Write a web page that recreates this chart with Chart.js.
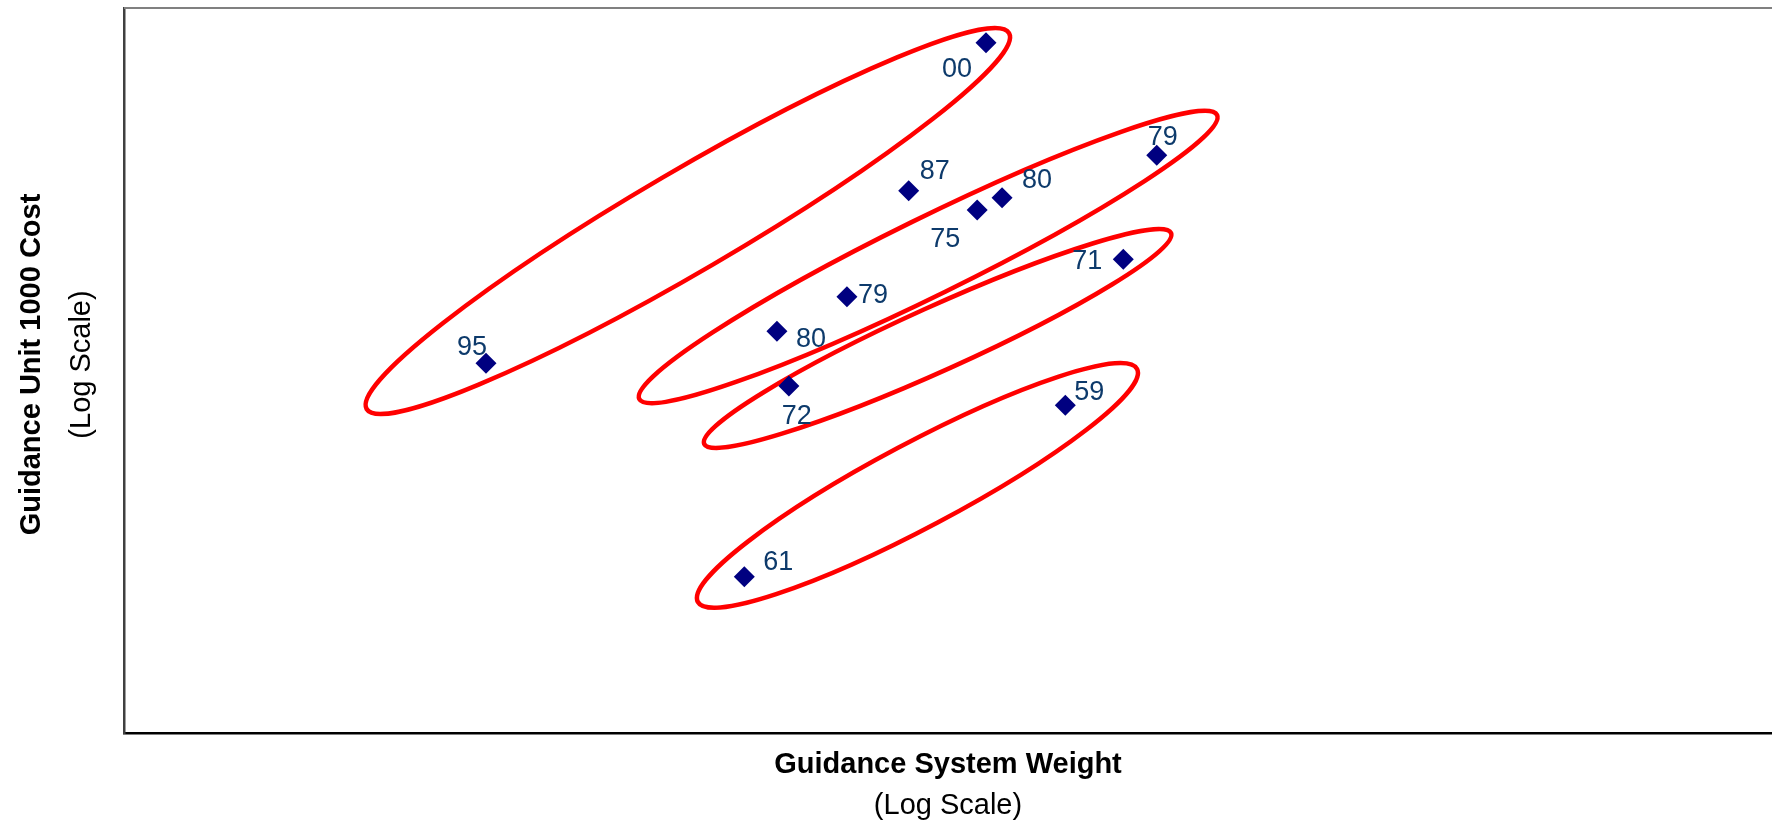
<!DOCTYPE html>
<html>
<head>
<meta charset="utf-8">
<script src="https://cdn.jsdelivr.net/npm/chart.js@4.4.1/dist/chart.umd.min.js"></script>
<style>
  html, body { margin: 0; padding: 0; background: #ffffff; }
  #wrap { width: 1772px; height: 826px; }
</style>
</head>
<body>
<div id="wrap"><canvas id="c" width="1772" height="826"></canvas></div>
<script>
// ---- data (log-log axes, no tick labels shown) ----
const pointLabels = ['00', '87', '75', '80', '79', '71', '79', '80', '72', '59', '95', '61'];
const systemWeight = [111.2, 89.6, 108.5, 116.3, 179.2, 163.2, 75.4, 62.0, 64.1, 138.8, 27.5, 56.6];
const unitCost = [8024, 3133, 2772, 2997, 3924, 2027, 1598, 1283, 906, 802, 1047, 270];

// axis ranges (log scale)
const xRange = [10, 1000];
const yRange = [100, 10000];

// grouping ellipses: major-axis end points in data units and minor/major ratio
const ellipseX1 = [19.7, 42.2, 50.6, 49.7];
const ellipseY1 = [783, 834, 627, 230];
const ellipseX2 = [118.6, 212.1, 186.5, 169.6];
const ellipseY2 = [8531, 5068, 2395, 1010];
const ellipseRatio = [0.135, 0.12, 0.125, 0.17];

// label placement (pixel offsets of label centre from marker) - style only
const labelDX = [-29, 26, -32, 35, 6, -36, 26, 34, 8, 24, -14, 34];
const labelDY = [25, -21, 27, -19, -20, 0, -3, 6, 28, -15, -18, -16];

const FONT = '"Liberation Sans", Arial, Helvetica, sans-serif';

const points = systemWeight.map((w, i) => ({ x: w, y: unitCost[i] }));

const ellipsePlugin = {
  id: 'ellipses',
  beforeDatasetsDraw(chart) {
    const { ctx, scales: { x, y } } = chart;
    ctx.save();
    ctx.strokeStyle = '#ff0000';
    ctx.lineWidth = 4.5;
    for (let i = 0; i < ellipseX1.length; i++) {
      const x1 = x.getPixelForValue(ellipseX1[i]);
      const y1 = y.getPixelForValue(ellipseY1[i]);
      const x2 = x.getPixelForValue(ellipseX2[i]);
      const y2 = y.getPixelForValue(ellipseY2[i]);
      const cx = (x1 + x2) / 2, cy = (y1 + y2) / 2;
      const a = Math.hypot(x2 - x1, y2 - y1) / 2;
      const b = a * ellipseRatio[i];
      const ang = Math.atan2(y2 - y1, x2 - x1);
      ctx.beginPath();
      ctx.ellipse(cx, cy, a, b, ang, 0, Math.PI * 2);
      ctx.stroke();
    }
    ctx.restore();
  }
};

const labelPlugin = {
  id: 'pointLabels',
  afterDatasetsDraw(chart) {
    const { ctx } = chart;
    const meta = chart.getDatasetMeta(0);
    ctx.save();
    ctx.font = '27px ' + FONT;
    ctx.fillStyle = '#0d3a6b';
    ctx.textAlign = 'center';
    ctx.textBaseline = 'alphabetic';
    meta.data.forEach((el, i) => {
      ctx.fillText(pointLabels[i], el.x + labelDX[i], el.y + labelDY[i] + 9.7);
    });
    ctx.restore();
  }
};

const framePlugin = {
  id: 'frameAndTitles',
  afterDraw(chart) {
    const { ctx, chartArea: ca } = chart;
    ctx.save();
    // top frame line
    ctx.strokeStyle = '#808080';
    ctx.lineWidth = 2;
    ctx.beginPath();
    ctx.moveTo(ca.left, ca.top);
    ctx.lineTo(chart.width, ca.top);
    ctx.stroke();

    ctx.fillStyle = '#000000';
    ctx.textAlign = 'center';
    ctx.textBaseline = 'alphabetic';
    const cxm = (ca.left + ca.right) / 2;
    ctx.font = 'bold 29px ' + FONT;
    ctx.fillText('Guidance System Weight', cxm, ca.bottom + 40);
    ctx.font = '29px ' + FONT;
    ctx.fillText('(Log Scale)', cxm, ca.bottom + 81);

    const cym = (ca.top + ca.bottom) / 2 - 6;
    ctx.save();
    ctx.translate(40, cym);
    ctx.rotate(-Math.PI / 2);
    ctx.font = 'bold 29px ' + FONT;
    ctx.fillText('Guidance Unit 1000 Cost', 0, 0);
    ctx.restore();
    ctx.save();
    ctx.translate(90, cym);
    ctx.rotate(-Math.PI / 2);
    ctx.font = '29px ' + FONT;
    ctx.fillText('(Log Scale)', 0, 0);
    ctx.restore();
    ctx.restore();
  }
};

new Chart(document.getElementById('c'), {
  type: 'scatter',
  data: {
    datasets: [{
      data: points,
      pointStyle: 'rectRot',
      pointRadius: 10.5,
      pointHoverRadius: 10.5,
      backgroundColor: '#000080',
      borderColor: '#000080',
      borderWidth: 0
    }]
  },
  options: {
    responsive: false,
    animation: false,
    devicePixelRatio: 1,
    events: [],
    layout: { autoPadding: false, padding: { left: 124, top: 8, right: 0, bottom: 93 } },
    plugins: { legend: { display: false }, tooltip: { enabled: false } },
    scales: {
      x: {
        type: 'logarithmic',
        min: xRange[0], max: xRange[1],
        ticks: { display: false },
        grid: { display: false, drawTicks: false },
        border: { display: true, color: '#000000', width: 2.5 },
        title: { display: false }
      },
      y: {
        type: 'logarithmic',
        min: yRange[0], max: yRange[1],
        ticks: { display: false },
        grid: { display: false, drawTicks: false },
        border: { display: true, color: '#404040', width: 2.5 },
        title: { display: false }
      }
    }
  },
  plugins: [ellipsePlugin, labelPlugin, framePlugin]
});
</script>
</body>
</html>
